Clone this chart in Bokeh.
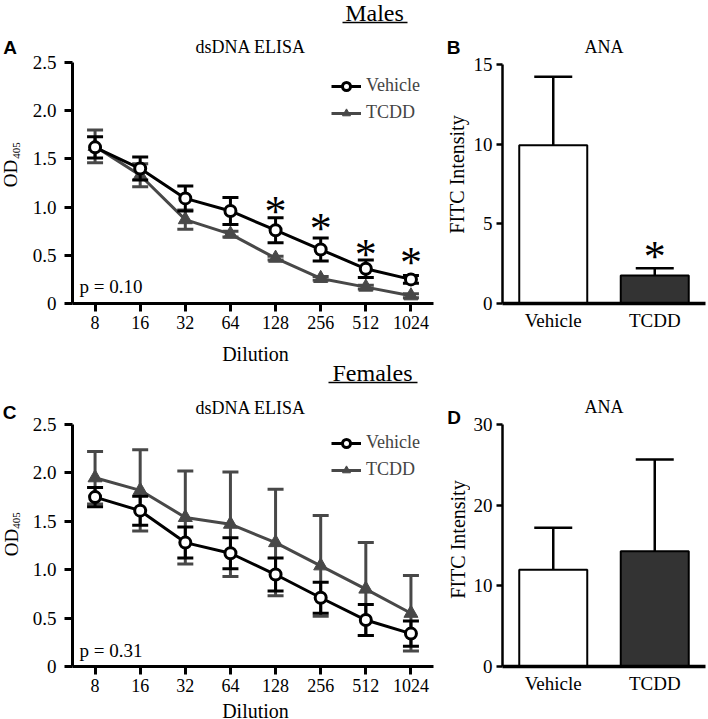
import math
from bokeh.plotting import figure
from bokeh.models import (FactorRange, Range1d, FixedTicker, Label, Legend, LegendItem)
from bokeh.layouts import column, row
from bokeh.embed import file_html
from bokeh.resources import INLINE
from bokeh.core.properties import value

SERIF = "Liberation Serif"
SANS = "Liberation Sans"
GRAY = "#484848"
DARK = "#333333"

# ---------------- data ----------------
dilutions = ["8", "16", "32", "64", "128", "256", "512", "1024"]

m_veh = [1.62, 1.40, 1.09, 0.96, 0.76, 0.56, 0.36, 0.25]
m_veh_err = [0.11, 0.12, 0.13, 0.14, 0.13, 0.12, 0.09, 0.04]
m_tcdd = [1.63, 1.33, 0.87, 0.72, 0.47, 0.26, 0.17, 0.08]
m_tcdd_err = [0.17, 0.12, 0.10, 0.03, 0.02, 0.02, 0.02, 0.02]
m_star_cats = ["128", "256", "512", "1024"]
m_star_y = [1.02, 0.84, 0.57, 0.49]
m_p = "p = 0.10"

f_veh = [1.75, 1.61, 1.28, 1.17, 0.95, 0.71, 0.48, 0.34]
f_veh_err = [0.10, 0.15, 0.16, 0.16, 0.17, 0.16, 0.16, 0.13]
f_tcdd = [1.95, 1.82, 1.54, 1.47, 1.28, 1.04, 0.80, 0.55]
f_tcdd_err = [0.27, 0.42, 0.48, 0.54, 0.55, 0.52, 0.48, 0.39]
f_p = "p = 0.31"

groups = ["Vehicle", "TCDD"]
m_ana = [9.93, 1.75]
m_ana_err = [4.3, 0.47]
m_ana_star_cats = ["TCDD"]
m_ana_star_y = [3.3]
f_ana = [12.0, 14.3]
f_ana_err = [5.2, 11.35]

od_ticks = [0, 0.5, 1.0, 1.5, 2.0, 2.5]
od_tick_labels = ["0", "0.5", "1.0", "1.5", "2.0", "2.5"]
ana_m_ticks = [0, 5, 10, 15]
ana_f_ticks = [0, 10, 20, 30]

STAR_SIZE = "44px"
STAR_OFF = 6
R90 = math.pi / 2


def strip(x0, y0, w, h, items, lines=()):
    """Text-only panel; items are (page_x, page_y, text, size, font, style, angle),
    each centred on its point. Wrapped in its own row so that its frame is not
    aligned with neighbouring plots."""
    s = figure(width=w, height=h, x_range=Range1d(0, w), y_range=Range1d(0, h),
               toolbar_location=None, output_backend="svg", title_location=None,
               x_axis_location=None, y_axis_location=None,
               min_border=0, min_border_left=0, min_border_right=0,
               min_border_top=0, min_border_bottom=0)
    s.outline_line_color = None
    s.grid.visible = False
    for (x, y, t, size, font, style, ang) in items:
        s.add_layout(Label(x=x - x0, y=(y0 + h) - y, x_units="screen",
                           y_units="screen", text=t, text_font=font,
                           text_font_size=f"{size}px", text_font_style=style,
                           text_align="center", text_baseline="middle",
                           angle=ang, text_color="black"))
    for (xa, xb, y) in lines:
        s.segment(x0=[xa - x0], y0=[(y0 + h) - y], x1=[xb - x0],
                  y1=[(y0 + h) - y], line_color="black", line_width=1.5)
    return row(s)


def base_fig(width, height, x_range, y_range, left, right, top, bottom,
             title, standoff):
    p = figure(width=width, height=height, x_range=x_range, y_range=y_range,
               toolbar_location=None, output_backend="svg", title=title,
               min_border_left=left, min_border_right=right,
               min_border_top=top, min_border_bottom=bottom)
    p.title.align = "center"
    p.title.text_font = SERIF
    p.title.text_font_size = "18px"
    p.title.text_font_style = "normal"
    p.title.text_color = "black"
    p.title.standoff = standoff
    p.outline_line_color = None
    p.grid.visible = False
    p.background_fill_color = "white"
    p.border_fill_color = "white"
    for ax in (p.xaxis[0], p.yaxis[0]):
        ax.axis_line_color = "black"
        ax.major_tick_line_color = "black"
        ax.minor_tick_line_color = None
        ax.major_tick_in = 0
        ax.major_label_text_font = SERIF
        ax.major_label_text_color = "black"
    return p


def err_bars(p, cats, vals, errs, color, cap, lw):
    lo = [v - e for v, e in zip(vals, errs)]
    hi = [v + e for v, e in zip(vals, errs)]
    p.segment(x0=cats, y0=lo, x1=cats, y1=hi, line_color=color, line_width=lw)
    p.scatter(x=cats, y=hi, marker="dash", size=cap, line_color=color, line_width=lw)
    p.scatter(x=cats, y=lo, marker="dash", size=cap, line_color=color, line_width=lw)


def add_stars(p, cats, ys):
    p.text(x=cats, y=ys, text=["*"] * len(cats), text_font=value(SERIF),
           text_font_size=STAR_SIZE, text_align="center",
           text_baseline="alphabetic", y_offset=STAR_OFF, text_color="black")


def line_panel(height, top, bottom, frame_bottom, veh, veh_err, tcdd, tcdd_err,
               p_text, p_mid, leg_top, standoff, stars=None):
    fl = 72
    p = base_fig(416, height, FactorRange(factors=dilutions), Range1d(0, 2.5),
                 48, 7, top, bottom, "dsDNA  ELISA", standoff)
    for ax in (p.xaxis[0], p.yaxis[0]):
        ax.axis_line_width = 3
        ax.major_tick_line_width = 3
        ax.major_tick_out = 8
    p.xaxis.major_label_text_font_size = "18px"
    p.xaxis.major_label_standoff = 4
    p.yaxis.major_label_text_font_size = "19px"
    p.yaxis.major_label_standoff = 8
    p.yaxis.ticker = FixedTicker(ticks=od_ticks)
    p.yaxis.major_label_overrides = {t: l for t, l in zip(od_ticks, od_tick_labels)}

    err_bars(p, dilutions, tcdd, tcdd_err, GRAY, 16, 3)
    tl = p.line(x=dilutions, y=tcdd, line_color=GRAY, line_width=3)
    ts = p.scatter(x=dilutions, y=tcdd, marker="triangle", size=14,
                   fill_color=GRAY, line_color=GRAY, line_width=1)
    err_bars(p, dilutions, veh, veh_err, "black", 16, 3)
    vl = p.line(x=dilutions, y=veh, line_color="black", line_width=3)
    vs = p.scatter(x=dilutions, y=veh, marker="circle", size=11,
                   fill_color="white", line_color="black", line_width=3)
    if stars:
        add_stars(p, *stars)

    leg_h = 46
    leg = Legend(items=[LegendItem(label="Vehicle", renderers=[vl, vs]),
                        LegendItem(label="TCDD", renderers=[tl, ts])],
                 location=(331 - fl, frame_bottom - (leg_top + leg_h)),
                 orientation="vertical", glyph_width=30, glyph_height=20,
                 label_height=20, spacing=6, padding=0, margin=0,
                 label_standoff=5, label_text_font=SERIF,
                 label_text_font_size="18px", border_line_color=None,
                 background_fill_alpha=0)
    p.add_layout(leg)
    p.add_layout(Label(x=79 - fl, y=frame_bottom - p_mid, x_units="screen",
                       y_units="screen", text=p_text, text_font=SERIF,
                       text_font_size="19px", text_baseline="middle",
                       text_color="black"))
    return p


def bar_panel(height, top, bottom, vals, errs, ticks, standoff, stars=None):
    p = base_fig(238, height, FactorRange(factors=groups),
                 Range1d(0, ticks[-1]), 32, 3, top, bottom, "ANA", standoff)
    p.yaxis.axis_line_width = 2.5
    p.yaxis.major_tick_line_width = 2.5
    p.yaxis.major_tick_out = 6
    p.yaxis.ticker = FixedTicker(ticks=ticks)
    p.yaxis.major_label_text_font_size = "19px"
    p.yaxis.major_label_standoff = 4
    p.xaxis.axis_line_width = 3.5
    p.xaxis.major_tick_line_color = None
    p.xaxis.major_tick_out = 0
    p.xaxis.major_label_text_font_size = "19px"
    p.xaxis.major_label_standoff = 6

    err_bars(p, groups, vals, errs, "black", 38, 2.5)
    p.vbar(x=groups, top=vals, bottom=0, width=0.67,
           fill_color=["white", DARK], line_color="black", line_width=2)
    if stars:
        add_stars(p, *stars)
    return p


N = "normal"
B = "bold"

# ----- header "Males" (page y 0..26)
hm = strip(0, 0, 708, 26, [(374, 12, "Males", 24, SERIF, N, 0)],
           lines=[(342, 407, 22)])

# ----- left text strip (x 0..24, page y 26..719)
sL = strip(0, 26, 24, 693, [
    (9.5, 46.5, "A", 19, SANS, B, 0),
    (9.5, 173, "OD", 19, SERIF, N, R90),
    (15.5, 150, "405", 11, SERIF, N, R90),
    (9, 411.5, "C", 19, SANS, B, 0),
    (11, 542, "OD", 19, SERIF, N, R90),
    (16, 520, "405", 11, SERIF, N, R90)])

# ----- left column (x 24..440)
pA = line_panel(312, 36, 35, 303, m_veh, m_veh_err, m_tcdd, m_tcdd_err,
                m_p, 286, 77, 12, stars=(m_star_cats, m_star_y))
mid = strip(24, 338, 416, 48, [
    (255, 353.5, "Dilution", 20, SERIF, N, 0),
    (372, 372, "Females", 24, SERIF, N, 0)],
    lines=[(328, 417, 382)])
pC = line_panel(316, 38, 36, 666, f_veh, f_veh_err, f_tcdd, f_tcdd_err,
                f_p, 649.5, 434, 14)
dC = strip(24, 702, 416, 17, [(255, 710.5, "Dilution", 20, SERIF, N, 0)])
left = column(row(pA), mid, row(pC), dC)

# ----- right text strip (x 440..470)
sR = strip(440, 26, 30, 693, [
    (453, 46.5, "B", 19, SANS, B, 0),
    (456, 174, "FITC Intensity", 20, SERIF, N, R90),
    (453.5, 416.5, "D", 19, SANS, B, 0),
    (457, 539, "FITC Intensity", 20, SERIF, N, R90)])

# ----- right column (x 470..708)
pB = bar_panel(336, 36, 59, m_ana, m_ana_err, ana_m_ticks, 16,
               stars=(m_ana_star_cats, m_ana_star_y))
pD = bar_panel(357, 62, 53, f_ana, f_ana_err, ana_f_ticks, 16)
right = column(row(pB), row(pD))

layout = column(hm, row(sL, left, sR, right))
open("out.html", "w").write(file_html(layout, INLINE))
